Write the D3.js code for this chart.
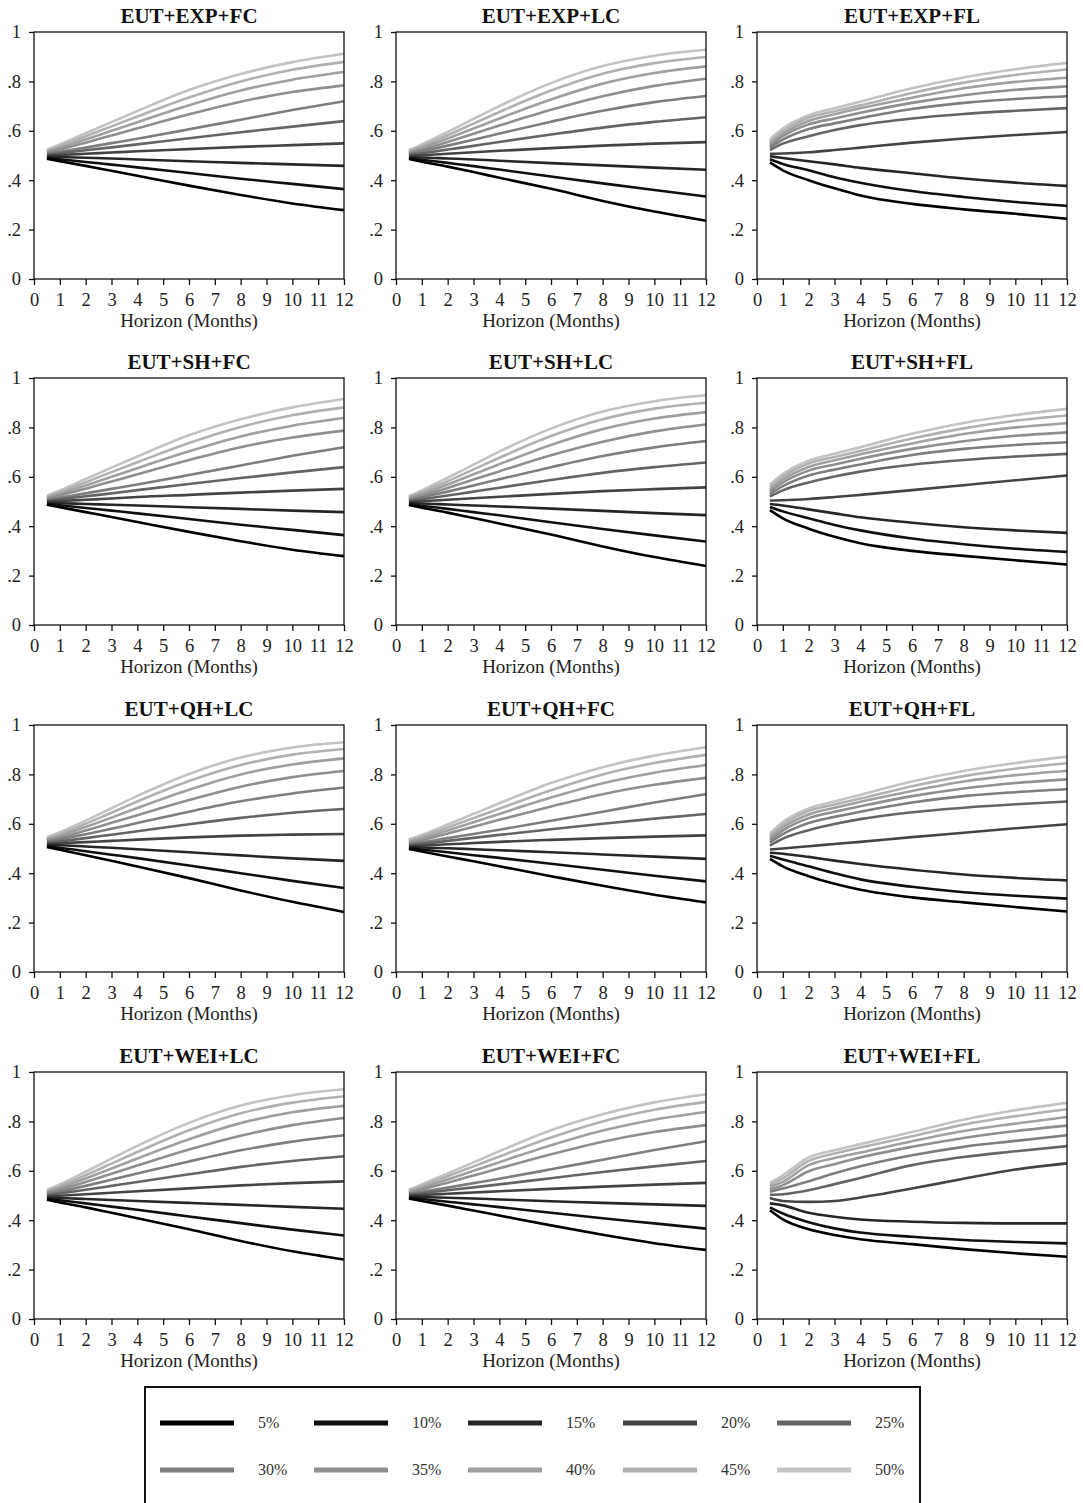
<!DOCTYPE html>
<html>
<head>
<meta charset="utf-8">
<script src="https://cdn.jsdelivr.net/npm/d3@7"></script>
<style>
  html, body { margin: 0; padding: 0; background: #fff; }
  svg { display: block; }
</style>
</head>
<body>
<svg id="chart" width="1083" height="1503"></svg>
<script>
// Forecast horizons (months) at which each probability path is evaluated
const months = [0.5, 1, 2, 3, 4, 6, 8, 10, 12];

// Quantile levels and the grey shade used for each
const levels = ["5%", "10%", "15%", "20%", "25%", "30%", "35%", "40%", "45%", "50%"];
const shades = ["#000000", "#0f0f0f", "#262626", "#444444", "#646464",
                "#7e7e7e", "#8f8f8f", "#a0a0a0", "#b1b1b1", "#c3c3c3"];

const panelTitles = [
  "EUT+EXP+FC", "EUT+EXP+LC", "EUT+EXP+FL",
  "EUT+SH+FC",  "EUT+SH+LC",  "EUT+SH+FL",
  "EUT+QH+LC",  "EUT+QH+FC",  "EUT+QH+FL",
  "EUT+WEI+LC", "EUT+WEI+FC", "EUT+WEI+FL"
];

const xTicks = [0, 1, 2, 3, 4, 5, 6, 7, 8, 9, 10, 11, 12];
const yTicks = [0, 0.2, 0.4, 0.6, 0.8, 1];
const yTickLabels = ["0", ".2", ".4", ".6", ".8", "1"];

// One row per level (5% ... 50%), one column per horizon in `months`
const expFC = [
  [0.487,0.477,0.458,0.438,0.418,0.378,0.340,0.306,0.279],
  [0.490,0.485,0.474,0.463,0.452,0.429,0.406,0.385,0.364],
  [0.495,0.494,0.491,0.488,0.484,0.477,0.470,0.464,0.458],
  [0.499,0.502,0.507,0.512,0.517,0.526,0.535,0.542,0.549],
  [0.503,0.509,0.521,0.533,0.545,0.570,0.594,0.617,0.639],
  [0.507,0.515,0.532,0.550,0.568,0.606,0.645,0.684,0.720],
  [0.511,0.524,0.552,0.581,0.610,0.667,0.718,0.757,0.784],
  [0.515,0.531,0.565,0.600,0.635,0.703,0.763,0.807,0.838],
  [0.519,0.538,0.578,0.618,0.658,0.735,0.800,0.847,0.879],
  [0.523,0.545,0.590,0.635,0.680,0.765,0.830,0.878,0.912]
];
const expLC = [
  [0.486,0.475,0.455,0.433,0.410,0.365,0.316,0.273,0.236],
  [0.489,0.483,0.470,0.457,0.443,0.415,0.387,0.360,0.334],
  [0.493,0.492,0.488,0.484,0.479,0.469,0.460,0.451,0.442],
  [0.498,0.501,0.507,0.513,0.519,0.530,0.540,0.548,0.554],
  [0.502,0.509,0.524,0.539,0.555,0.585,0.613,0.636,0.655],
  [0.506,0.517,0.540,0.564,0.589,0.637,0.681,0.716,0.741],
  [0.510,0.524,0.555,0.588,0.621,0.685,0.740,0.782,0.811],
  [0.514,0.531,0.569,0.609,0.650,0.727,0.791,0.834,0.861],
  [0.518,0.538,0.582,0.629,0.676,0.763,0.831,0.874,0.899],
  [0.522,0.545,0.595,0.648,0.700,0.793,0.862,0.904,0.928]
];
const expFL = [
  [0.472,0.440,0.400,0.367,0.338,0.304,0.282,0.264,0.244],
  [0.485,0.466,0.440,0.412,0.390,0.356,0.332,0.312,0.296],
  [0.497,0.490,0.477,0.464,0.450,0.428,0.407,0.390,0.377],
  [0.507,0.508,0.513,0.522,0.532,0.552,0.569,0.583,0.595],
  [0.522,0.548,0.578,0.603,0.623,0.650,0.668,0.681,0.692],
  [0.532,0.564,0.607,0.630,0.651,0.688,0.713,0.729,0.740],
  [0.540,0.578,0.626,0.650,0.673,0.713,0.744,0.766,0.780],
  [0.548,0.588,0.640,0.667,0.691,0.734,0.772,0.798,0.815],
  [0.556,0.598,0.653,0.679,0.703,0.753,0.795,0.826,0.848],
  [0.565,0.609,0.663,0.691,0.718,0.772,0.816,0.849,0.875]
];
const shFC = [
  [0.487,0.477,0.457,0.437,0.417,0.377,0.339,0.305,0.279],
  [0.490,0.485,0.474,0.463,0.452,0.429,0.406,0.385,0.364],
  [0.494,0.493,0.490,0.487,0.484,0.477,0.470,0.463,0.457],
  [0.499,0.502,0.507,0.512,0.518,0.527,0.536,0.544,0.551],
  [0.503,0.509,0.521,0.533,0.546,0.571,0.595,0.618,0.639],
  [0.507,0.515,0.533,0.551,0.569,0.607,0.646,0.685,0.720],
  [0.511,0.524,0.552,0.581,0.610,0.668,0.720,0.759,0.787],
  [0.515,0.531,0.565,0.600,0.635,0.703,0.763,0.807,0.838],
  [0.519,0.538,0.578,0.619,0.659,0.737,0.802,0.849,0.881],
  [0.523,0.545,0.591,0.637,0.682,0.768,0.833,0.881,0.915]
];
const shLC = [
  [0.486,0.475,0.455,0.433,0.411,0.366,0.318,0.275,0.239],
  [0.489,0.483,0.470,0.457,0.444,0.416,0.389,0.363,0.338],
  [0.493,0.492,0.488,0.484,0.480,0.471,0.462,0.453,0.445],
  [0.498,0.501,0.507,0.513,0.519,0.531,0.542,0.550,0.557],
  [0.502,0.509,0.524,0.540,0.556,0.587,0.616,0.639,0.658],
  [0.506,0.517,0.540,0.565,0.590,0.639,0.684,0.719,0.745],
  [0.510,0.524,0.555,0.589,0.622,0.687,0.742,0.784,0.812],
  [0.514,0.531,0.569,0.610,0.651,0.729,0.793,0.836,0.862],
  [0.518,0.538,0.582,0.630,0.677,0.765,0.833,0.876,0.900],
  [0.522,0.545,0.596,0.649,0.702,0.795,0.864,0.906,0.930]
];
const shFL = [
  [0.465,0.432,0.390,0.357,0.331,0.300,0.280,0.262,0.245],
  [0.478,0.460,0.432,0.405,0.383,0.350,0.327,0.309,0.296],
  [0.490,0.484,0.468,0.452,0.436,0.414,0.396,0.383,0.373],
  [0.504,0.505,0.510,0.518,0.527,0.546,0.566,0.586,0.605],
  [0.520,0.545,0.577,0.601,0.621,0.649,0.668,0.682,0.693],
  [0.530,0.562,0.605,0.629,0.650,0.688,0.713,0.729,0.740],
  [0.540,0.577,0.625,0.650,0.673,0.713,0.744,0.766,0.780],
  [0.549,0.589,0.640,0.667,0.691,0.735,0.773,0.800,0.817],
  [0.558,0.600,0.654,0.680,0.705,0.755,0.796,0.827,0.848],
  [0.568,0.611,0.665,0.693,0.720,0.774,0.818,0.850,0.875]
];
const qhLC = [
  [0.506,0.495,0.473,0.450,0.427,0.380,0.330,0.284,0.243],
  [0.509,0.503,0.489,0.475,0.461,0.431,0.400,0.369,0.340],
  [0.514,0.513,0.508,0.503,0.497,0.485,0.472,0.460,0.450],
  [0.518,0.521,0.526,0.531,0.536,0.545,0.552,0.556,0.559],
  [0.523,0.529,0.542,0.556,0.570,0.598,0.624,0.645,0.660],
  [0.527,0.537,0.558,0.580,0.603,0.649,0.691,0.723,0.747],
  [0.532,0.544,0.573,0.604,0.635,0.696,0.750,0.789,0.814],
  [0.536,0.551,0.587,0.625,0.664,0.738,0.800,0.840,0.865],
  [0.540,0.558,0.600,0.645,0.690,0.773,0.838,0.880,0.903],
  [0.545,0.566,0.613,0.663,0.713,0.802,0.868,0.909,0.930]
];
const qhFC = [
  [0.498,0.488,0.468,0.448,0.428,0.388,0.349,0.313,0.282],
  [0.501,0.496,0.485,0.473,0.462,0.438,0.414,0.390,0.367],
  [0.505,0.504,0.501,0.497,0.493,0.485,0.476,0.467,0.458],
  [0.510,0.512,0.517,0.522,0.527,0.535,0.542,0.548,0.553],
  [0.514,0.519,0.531,0.543,0.555,0.578,0.600,0.621,0.640],
  [0.518,0.525,0.542,0.559,0.576,0.612,0.649,0.686,0.720],
  [0.523,0.534,0.561,0.588,0.616,0.670,0.720,0.758,0.786],
  [0.527,0.541,0.573,0.606,0.640,0.706,0.764,0.807,0.838],
  [0.532,0.548,0.585,0.623,0.661,0.736,0.800,0.846,0.879],
  [0.537,0.555,0.597,0.640,0.683,0.765,0.829,0.876,0.910]
];
const qhFL = [
  [0.458,0.428,0.388,0.357,0.333,0.302,0.282,0.263,0.245],
  [0.470,0.455,0.428,0.400,0.375,0.345,0.323,0.309,0.297],
  [0.483,0.479,0.466,0.451,0.437,0.414,0.395,0.381,0.371],
  [0.496,0.500,0.509,0.518,0.527,0.546,0.564,0.582,0.598],
  [0.512,0.540,0.574,0.599,0.619,0.647,0.665,0.679,0.690],
  [0.524,0.558,0.603,0.628,0.649,0.686,0.712,0.728,0.740],
  [0.533,0.573,0.623,0.649,0.671,0.712,0.743,0.765,0.780],
  [0.542,0.585,0.638,0.665,0.689,0.733,0.771,0.797,0.815],
  [0.551,0.596,0.652,0.678,0.702,0.752,0.793,0.823,0.845],
  [0.560,0.607,0.662,0.690,0.717,0.771,0.814,0.846,0.872]
];
const weiLC = [
  [0.483,0.472,0.452,0.430,0.408,0.363,0.316,0.274,0.241],
  [0.487,0.481,0.468,0.455,0.442,0.415,0.388,0.362,0.338],
  [0.491,0.490,0.486,0.482,0.478,0.470,0.462,0.454,0.446],
  [0.496,0.499,0.505,0.511,0.517,0.529,0.541,0.550,0.557],
  [0.501,0.508,0.523,0.539,0.555,0.586,0.616,0.640,0.659],
  [0.506,0.516,0.539,0.564,0.589,0.638,0.683,0.718,0.744],
  [0.510,0.524,0.555,0.588,0.621,0.686,0.742,0.785,0.814],
  [0.514,0.531,0.569,0.609,0.650,0.728,0.793,0.837,0.863],
  [0.518,0.538,0.582,0.629,0.676,0.764,0.833,0.876,0.902],
  [0.523,0.545,0.596,0.649,0.701,0.794,0.864,0.906,0.930]
];
const weiFC = [
  [0.488,0.478,0.459,0.439,0.419,0.379,0.341,0.307,0.280],
  [0.491,0.486,0.475,0.464,0.453,0.430,0.408,0.387,0.366],
  [0.495,0.494,0.491,0.488,0.484,0.477,0.470,0.464,0.458],
  [0.499,0.502,0.507,0.512,0.517,0.527,0.536,0.544,0.551],
  [0.503,0.509,0.521,0.533,0.545,0.570,0.595,0.618,0.640],
  [0.507,0.515,0.532,0.550,0.568,0.606,0.645,0.684,0.720],
  [0.511,0.524,0.552,0.581,0.610,0.667,0.718,0.757,0.785],
  [0.515,0.531,0.565,0.600,0.635,0.703,0.763,0.807,0.838],
  [0.519,0.538,0.578,0.618,0.658,0.735,0.800,0.847,0.879],
  [0.523,0.545,0.589,0.634,0.679,0.764,0.829,0.877,0.910]
];
const weiFL = [
  [0.440,0.403,0.363,0.340,0.323,0.303,0.283,0.266,0.252],
  [0.452,0.427,0.392,0.367,0.350,0.333,0.320,0.312,0.306],
  [0.468,0.460,0.430,0.414,0.403,0.394,0.389,0.387,0.387],
  [0.490,0.478,0.474,0.478,0.492,0.528,0.568,0.605,0.630],
  [0.503,0.505,0.521,0.546,0.571,0.623,0.656,0.679,0.700],
  [0.515,0.528,0.558,0.590,0.618,0.663,0.697,0.721,0.744],
  [0.525,0.542,0.598,0.627,0.654,0.697,0.733,0.761,0.783],
  [0.535,0.555,0.623,0.652,0.674,0.720,0.761,0.791,0.818],
  [0.543,0.569,0.640,0.670,0.694,0.740,0.787,0.821,0.849],
  [0.551,0.582,0.654,0.683,0.708,0.757,0.807,0.845,0.875]
];

const panelData = [expFC, expLC, expFL, shFC, shLC, shFL,
                   qhLC, qhFC, qhFL, weiLC, weiFC, weiFL];

// ---- layout ----
const FONT = "'Liberation Serif', 'DejaVu Serif', serif";
const colLeft = [34, 396, 757];
const rowTop = [32, 378, 725, 1072];
const plotW = 310, plotH = 247;

const svg = d3.select("#chart");
svg.append("rect").attr("width", 1083).attr("height", 1503).attr("fill", "#fff");

const x = d3.scaleLinear().domain([0, 12]).range([0, plotW]);
const y = d3.scaleLinear().domain([0, 1]).range([plotH, 0]);
const line = d3.line()
  .x((d, i) => x(months[i]))
  .y(d => y(d))
  .curve(d3.curveMonotoneX);

panelTitles.forEach((title, p) => {
  const col = p % 3, row = Math.floor(p / 3);
  const g = svg.append("g")
    .attr("transform", `translate(${colLeft[col]},${rowTop[row]})`);

  // title
  g.append("text")
    .attr("x", plotW / 2).attr("y", -9)
    .attr("text-anchor", "middle")
    .attr("font-family", FONT).attr("font-weight", "bold")
    .attr("font-size", 21).attr("fill", "#111")
    .text(title);

  // probability paths, lightest first so darker levels sit on top
  const series = panelData[p];
  for (let k = series.length - 1; k >= 0; k--) {
    g.append("path")
      .datum(series[k])
      .attr("d", line)
      .attr("fill", "none")
      .attr("stroke", shades[k])
      .attr("stroke-width", 2.6)
      .attr("stroke-linejoin", "round");
  }

  // frame
  g.append("rect")
    .attr("width", plotW).attr("height", plotH)
    .attr("fill", "none").attr("stroke", "#111").attr("stroke-width", 1.3);

  // x axis
  const xa = g.append("g")
    .attr("transform", `translate(0,${plotH})`)
    .call(d3.axisBottom(x).tickValues(xTicks).tickFormat(d3.format("d"))
      .tickSize(6).tickSizeOuter(0).tickPadding(8));
  xa.select(".domain").remove();
  xa.selectAll("line").attr("stroke", "#111").attr("stroke-width", 1.3);
  xa.selectAll("text").attr("font-family", FONT).attr("font-size", 18.5).attr("fill", "#222");

  // y axis
  const ya = g.append("g")
    .call(d3.axisLeft(y).tickValues(yTicks).tickFormat((d, i) => yTickLabels[i])
      .tickSize(5).tickSizeOuter(0).tickPadding(8));
  ya.select(".domain").remove();
  ya.selectAll("line").attr("stroke", "#111").attr("stroke-width", 1.3);
  ya.selectAll("text").attr("font-family", FONT).attr("font-size", 18.5).attr("fill", "#222");

  // x axis title
  g.append("text")
    .attr("x", plotW / 2).attr("y", plotH + 48)
    .attr("text-anchor", "middle")
    .attr("font-family", FONT).attr("font-size", 19).attr("fill", "#222")
    .text("Horizon (Months)");
});

// ---- legend ----
const legend = svg.append("g");
legend.append("rect")
  .attr("x", 145).attr("y", 1387).attr("width", 775).attr("height", 140)
  .attr("fill", "#fff").attr("stroke", "#111").attr("stroke-width", 2);

const legCols = [160, 314, 468, 623, 777];
const legRows = [1423, 1470];
levels.forEach((lab, i) => {
  const cx = legCols[i % 5], cy = legRows[Math.floor(i / 5)];
  legend.append("line")
    .attr("x1", cx).attr("x2", cx + 74)
    .attr("y1", cy).attr("y2", cy)
    .attr("stroke", shades[i]).attr("stroke-width", 5);
  legend.append("text")
    .attr("x", cx + 98).attr("y", cy + 5)
    .attr("font-family", FONT).attr("font-size", 16).attr("fill", "#333")
    .text(lab);
});
</script>
</body>
</html>
